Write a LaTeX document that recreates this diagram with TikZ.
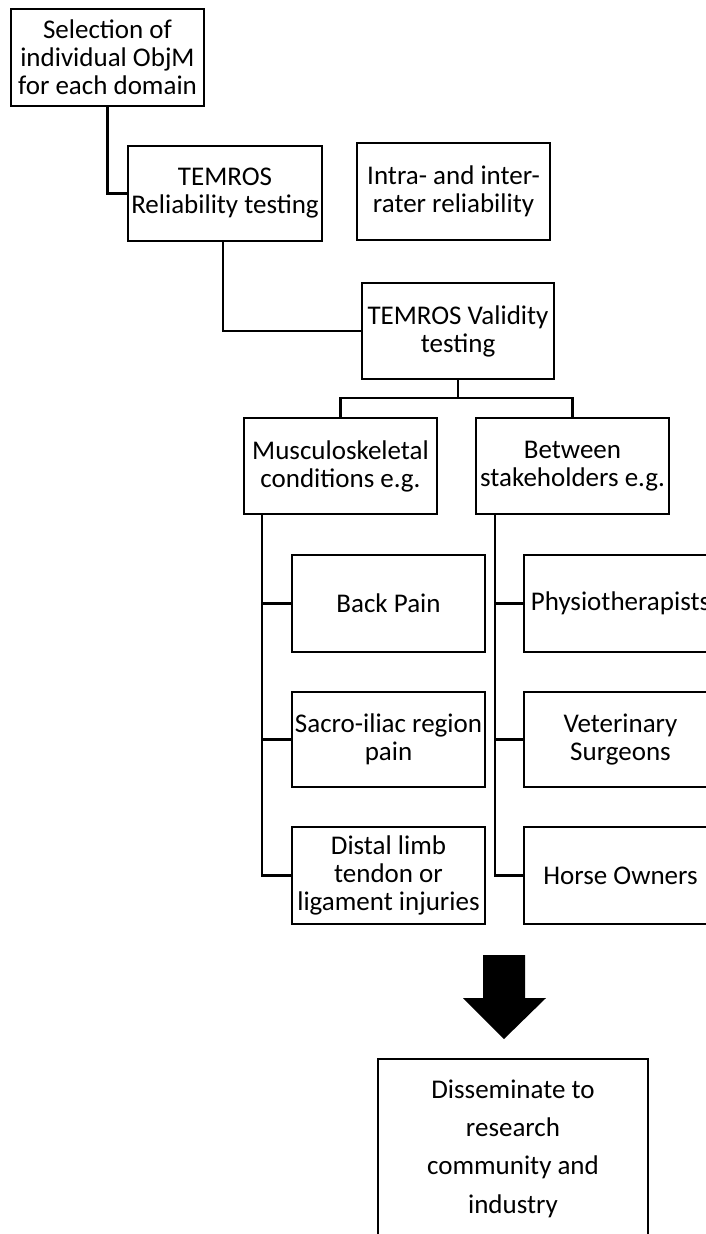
\documentclass[tikz,border=0pt]{standalone}
\usepackage{fontspec}
\setmainfont{Carlito}
\begin{document}
\begin{tikzpicture}[x=1pt,y=-1pt,
  box/.style={draw=black,line width=2.5pt,fill=white,inner sep=0pt,align=center,
    minimum width=193pt,minimum height=96pt,font=\fontsize{27}{28}\selectfont},
  conn/.style={draw=black,line width=2.5pt},
  bigarrow/.style={fill=black,draw=none}]
\useasboundingbox (0,0) rectangle (706,1234);
\clip (0,0) rectangle (706,1234);
\fill[white] (0,0) rectangle (706,1234);

\node[box,minimum height=97pt] (sel) at (107.5,57.5) {Selection of\\individual ObjM\\for each domain};
\node[box,minimum width=194pt,minimum height=95pt] (rel) at (225,193.5) {TEMROS\\Reliability testing};
\node[box,minimum height=97pt] (intra) at (453.5,191.5) {Intra- and inter-\\rater reliability};
\node[box,minimum width=192pt] (val) at (458,331) {TEMROS Validity\\testing};
\node[box] (musc) at (340.5,466) {Musculoskeletal\\conditions e.g.};
\node[box] (betw) at (572.5,466) {Between\\stakeholders e.g.};
\node[box,minimum height=97pt] (back) at (388.5,603.5) {Back Pain};
\node[box,minimum height=95pt] (sacro) at (388.5,739.5) {Sacro-iliac region\\pain};
\node[box,minimum height=97pt] (distal) at (388.5,875.5) {Distal limb\\tendon or\\ligament injuries};
\node[box,minimum height=97pt] (physio) at (620.5,603.5) {Physiotherapists};
\node[box,minimum height=95pt] (vet) at (620.5,739.5) {Veterinary\\Surgeons};
\node[box,minimum height=97pt] (horse) at (620.5,875.5) {Horse Owners};
\node[box,minimum width=270pt,minimum height=179pt,font=\fontsize{27}{38.3}\selectfont] (diss) at (513,1148.5) {Disseminate to\\research\\community and\\industry};

% connectors
\draw[conn] (sel.south) |- (rel.west);
\draw[conn] ([xshift=-2pt]rel.south) |- (val.west);
\coordinate (split) at (458,398);
\draw[conn] (val.south) -- (split);
\draw[conn] (musc.north) |- (split) -| (betw.north);
\coordinate (mx) at ([xshift=19pt]musc.south west);
\draw[conn] (mx) |- (distal.west);
\draw[conn] (back.west) -- (back.west -| mx);
\draw[conn] (sacro.west) -- (sacro.west -| mx);
\coordinate (bx) at ([xshift=20pt]betw.south west);
\draw[conn] (bx) |- (horse.west);
\draw[conn] (physio.west) -- (physio.west -| bx);
\draw[conn] (vet.west) -- (vet.west -| bx);

% block arrow
\fill[bigarrow] (483,955) -- (525,955) -- (525,998) -- (546,998) -- (504,1039) -- (463,998) -- (483,998) -- cycle;
\end{tikzpicture}
\end{document}
